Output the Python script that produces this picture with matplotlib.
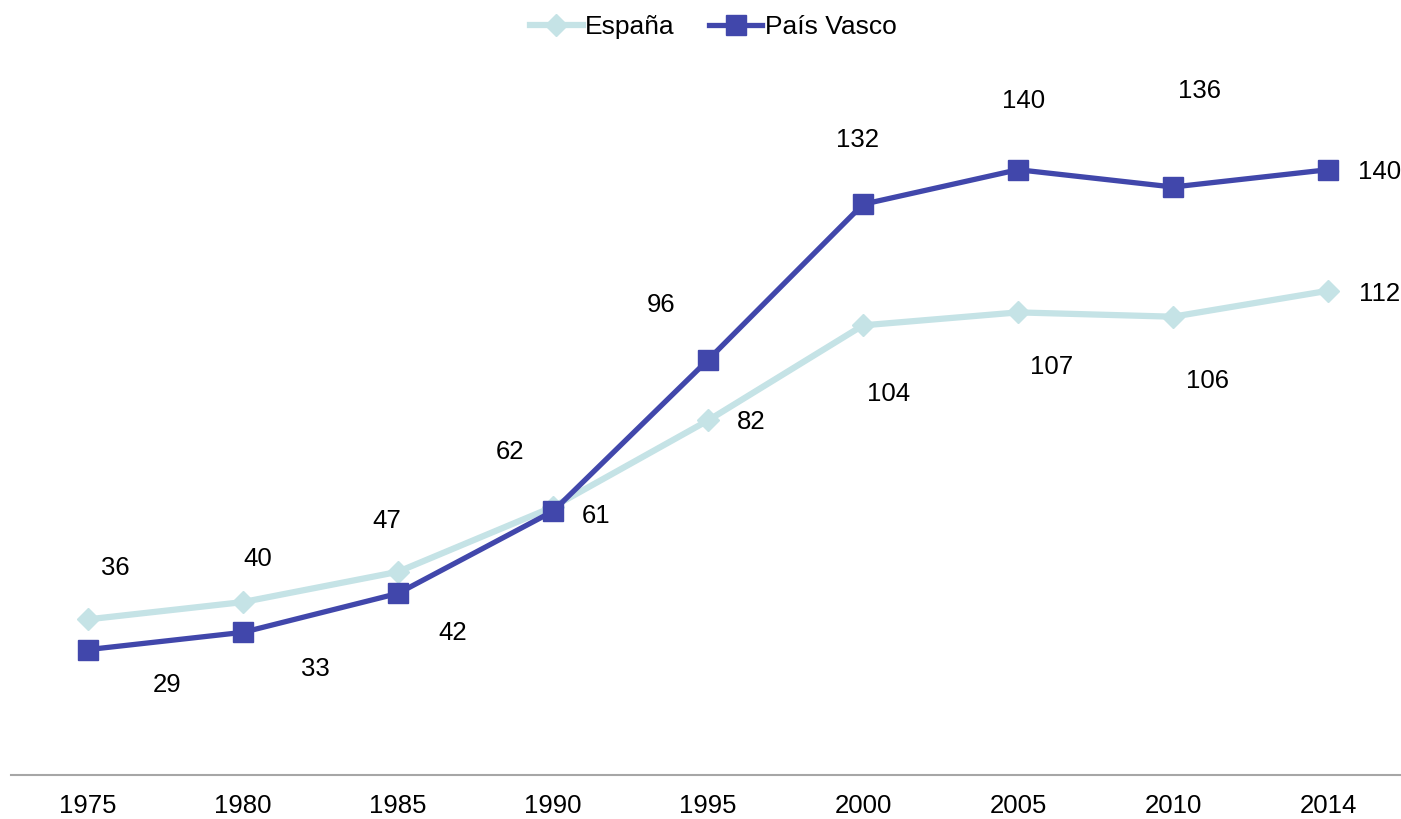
import matplotlib.pyplot as plt

plt.rcParams['font.family'] = ['Liberation Sans', 'DejaVu Sans']

years = ['1975', '1980', '1985', '1990', '1995', '2000', '2005', '2010', '2014']
espana = [36, 40, 47, 62, 82, 104, 107, 106, 112]
pais_vasco = [29, 33, 42, 61, 96, 132, 140, 136, 140]

# label offsets in pixels (dx, dy), as placed in the original
esp_off = [(27, 51), (15, 43), (-11, 51), (-43, 55), (43, -2), (26, -69), (34, -55), (34, -64), (52, -3)]
pv_off = [(79, -35), (72, -37), (55, -40), (43, -5), (-47, 55), (-6, 64), (6, 69), (26, 96), (52, -2)]

c_esp = '#C5E3E6'
c_pv = '#4147AB'
fs = 18.5

fig = plt.figure(figsize=(14.01, 8.19), dpi=100)
ax = fig.add_axes([10.5 / 1401, 44 / 819, 1395 / 1401, (775 - 40) / 819])

x = list(range(len(years)))
ax.plot(x, espana, color=c_esp, lw=4.5, marker='D', ms=11, label='España', zorder=2)
ax.plot(x, pais_vasco, color=c_pv, lw=3.8, marker='s', ms=14, label='País Vasco', zorder=3)

for i in x:
    ax.annotate(str(espana[i]), (x[i], espana[i]), xytext=esp_off[i], textcoords='offset pixels',
                ha='center', va='center', fontsize=fs)
    ax.annotate(str(pais_vasco[i]), (x[i], pais_vasco[i]), xytext=pv_off[i], textcoords='offset pixels',
                ha='center', va='center', fontsize=fs)

ax.set_xlim(-0.5, 8.5)
ax.set_ylim(0, 170)
ax.set_xticks(x)
ax.set_xticklabels(years, fontsize=fs)
ax.set_yticks([])
for s in ['top', 'right', 'left']:
    ax.spines[s].set_visible(False)
ax.spines['bottom'].set_color('#A6A6A6')
ax.spines['bottom'].set_linewidth(1.5)
ax.tick_params(axis='x', length=0, pad=14)

fig.legend(loc='upper center', bbox_to_anchor=(0.509, 1.011), ncol=2, frameon=False, fontsize=19,
           handlelength=2.0, columnspacing=1.3, handletextpad=0.1)

fig.savefig('out.png', dpi=100)
